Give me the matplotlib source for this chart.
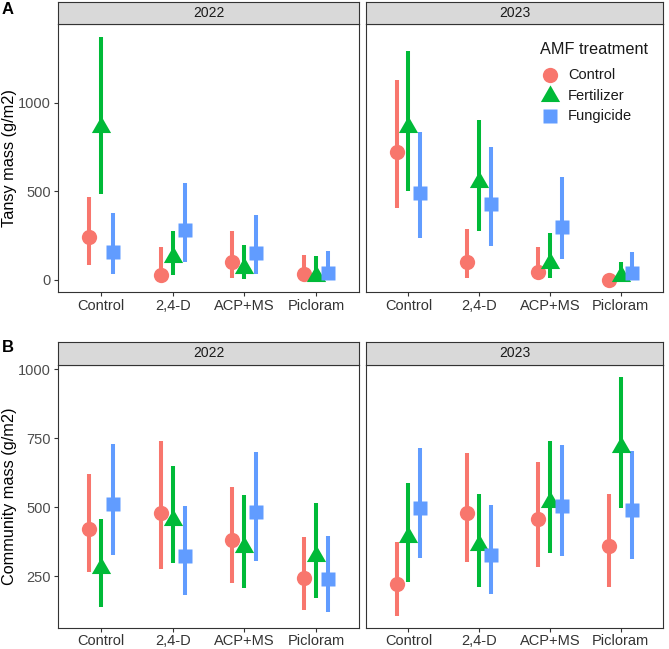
import numpy as np
import matplotlib
matplotlib.use('Agg')
from matplotlib import pyplot as plt
from matplotlib.lines import Line2D

plt.rcParams['font.family'] = ['Liberation Sans', 'DejaVu Sans']

# Data

herbicides = ['Control', '2,4-D', 'ACP+MS', 'Picloram']
amf = ['Control', 'Fertilizer', 'Fungicide']
years = ['2022', '2023']

# Tansy mass (g/m2): mean, lower, upper per AMF treatment, by herbicide
tansy_2022_mean = [[244, 28, 100, 34], [864, 131, 66, 23], [156, 282, 154, 38]]
tansy_2022_low = [[85, 0, 13, 0], [483, 26, 4, 0], [34, 100, 32, 0]]
tansy_2022_high = [[470, 188, 276, 141], [1368, 276, 197, 135], [376, 548, 366, 165]]

tansy_2023_mean = [[723, 103, 47, 0], [864, 554, 94, 22], [492, 430, 301, 38]]
tansy_2023_low = [[404, 13, 10, 0], [503, 276, 9, 0], [237, 192, 117, 0]]
tansy_2023_high = [[1127, 286, 188, 8], [1293, 902, 263, 103], [834, 752, 582, 160]]

# Community mass (g/m2)
comm_2022_mean = [[423, 480, 381, 245], [279, 454, 357, 323], [512, 323, 484, 239]]
comm_2022_low = [[267, 275, 227, 128], [140, 299, 207, 170], [327, 182, 306, 120]]
comm_2022_high = [[619, 741, 572, 393], [456, 649, 544, 514], [729, 504, 699, 397]]

comm_2023_mean = [[222, 480, 456, 360], [391, 363, 520, 717], [496, 327, 505, 490]]
comm_2023_low = [[106, 303, 285, 210], [230, 210, 333, 496], [315, 186, 323, 312]]
comm_2023_high = [[375, 695, 665, 548], [587, 550, 739, 972], [713, 508, 725, 704]]

colors = ['#F8766D', '#00BA38', '#619CFF']
tri = [(-1.0, -0.577), (1.0, -0.577), (0.0, 1.155)]
markers = ['o', tri, 's']
msizes = [11, 16, 10.5]

W, H = 669, 649
fig = plt.figure(figsize=(W / 100, H / 100), dpi=100)


def add_px(x0, y0, x1, y1):
    return fig.add_axes([x0 / W, 1 - y1 / H, (x1 - x0) / W, (y1 - y0) / H])


def draw_panel(ax, means, lows, highs, ylim, yticks, show_y):
    x = np.arange(len(herbicides))
    offs = [-1 / 6, 0, 1 / 6]
    for g in range(3):
        ax.vlines(x + offs[g], lows[g], highs[g], color=colors[g], lw=2.9, zorder=2)
    for g in range(3):
        ax.plot(x + offs[g], means[g], linestyle='none', marker=markers[g],
                ms=msizes[g], color=colors[g], mec='none', zorder=3)
    ax.set_xlim(0.4 - 1, 4.6 - 1)
    ax.set_ylim(*ylim)
    ax.set_xticks(x)
    ax.set_xticklabels(herbicides, fontsize=10.5, color='#333333')
    ax.set_yticks(yticks)
    if show_y:
        ax.set_yticklabels([str(t) for t in yticks], fontsize=10.5, color='#4d4d4d')
    else:
        ax.tick_params(axis='y', left=False, labelleft=False)
    ax.tick_params(length=3, width=0.8, color='#333333', pad=2)
    for s in ax.spines.values():
        s.set_color('#333333')
        s.set_linewidth(0.8)


def draw_strip(x0, y0, x1, y1, label):
    sax = add_px(x0, y0, x1, y1)
    sax.set_facecolor('#D9D9D9')
    sax.set_xticks([])
    sax.set_yticks([])
    for s in sax.spines.values():
        s.set_color('#333333')
        s.set_linewidth(0.8)
    sax.text(0.5, 0.5, label, ha='center', va='center', fontsize=10, color='#1a1a1a',
             transform=sax.transAxes)


cols = [(58, 359), (366, 663)]

# Panel A
tansy = [(tansy_2022_mean, tansy_2022_low, tansy_2022_high),
         (tansy_2023_mean, tansy_2023_low, tansy_2023_high)]
axesA = []
for i, (x0, x1) in enumerate(cols):
    ax = add_px(x0, 24, x1, 292)
    m, lo, hi = tansy[i]
    draw_panel(ax, m, lo, hi, (-68, 1443), [0, 500, 1000], i == 0)
    draw_strip(x0, 1.5, x1, 24, years[i])
    axesA.append(ax)
axesA[0].set_ylabel('Tansy mass (g/m2)', fontsize=11.7)
axesA[0].yaxis.set_label_coords(17.5 / W, 1 - 158 / H, transform=fig.transFigure)

# Panel B
comm = [(comm_2022_mean, comm_2022_low, comm_2022_high),
        (comm_2023_mean, comm_2023_low, comm_2023_high)]
axesB = []
for i, (x0, x1) in enumerate(cols):
    ax = add_px(x0, 364.5, x1, 627.5)
    m, lo, hi = comm[i]
    draw_panel(ax, m, lo, hi, (65, 1017), [250, 500, 750, 1000], i == 0)
    draw_strip(x0, 341.5, x1, 364.5, years[i])
    axesB.append(ax)
axesB[0].set_ylabel('Community mass (g/m2)', fontsize=11.7)
axesB[0].yaxis.set_label_coords(17.5 / W, 1 - 496 / H, transform=fig.transFigure)

fig.text(2 / W, 1 - 9 / H, 'A', fontsize=12, fontweight='bold', va='center', ha='left')
fig.text(2 / W, 1 - 347 / H, 'B', fontsize=12, fontweight='bold', va='center', ha='left')

# Legend inside the 2023 tansy panel, laid out by hand
fig.text(540 / W, 1 - 50 / H, 'AMF treatment', fontsize=11.7, va='center', ha='left',
         color='#1a1a1a')
leg_y = [75, 95.5, 116]
for g in range(3):
    fig.add_artist(Line2D([550 / W], [1 - leg_y[g] / H], transform=fig.transFigure,
                          linestyle='none', marker=markers[g], ms=msizes[g],
                          color=colors[g], mec='none'))
    fig.text(568 / W, 1 - leg_y[g] / H, amf[g], fontsize=10.5, va='center', ha='left',
             color='#1a1a1a')

fig.savefig('out.png', dpi=100)
